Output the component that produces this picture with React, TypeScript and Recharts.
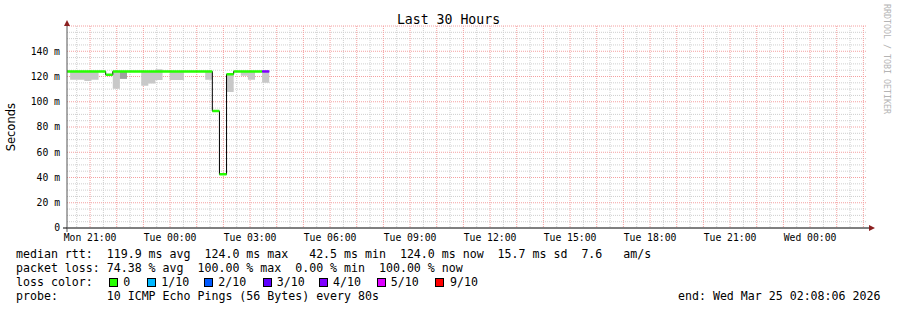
import React from 'react';
import { ComposedChart, Line, Area, XAxis, YAxis, CartesianGrid } from 'recharts';

// ---- data (minutes after graph start, Mon 20:08:06) ----
const binStartMin = [0, 7, 23, 39, 55, 71, 87, 103, 119, 135, 151, 167, 183, 199, 215, 231, 247, 263, 279, 295, 311, 327, 343, 359, 375, 391, 407, 423, 439];
const binEndMin = 455;
const medianMs = [124.0, 124.0, 124.0, 124.0, 124.0, 124.0, 121.3, 124.0, 124.0, 124.0, 124.0, 124.0, 124.0, 124.0, 124.0, 124.0, 124.0, 124.0, 124.0, 124.0, 124.0, 92.6, 42.5, 121.8, 124.0, 124.0, 124.0, 124.0, 124.0];
const lossBucket = [0, 0, 0, 0, 0, 0, 0, 0, 0, 0, 0, 0, 0, 0, 0, 0, 0, 0, 0, 0, 0, 0, 0, 0, 0, 0, 0, 0, 4];
const smokeLowMs = [null, 117.5, 117.5, 116.5, 117.5, null, null, 110.2, null, null, null, 112.6, 114.5, 117.3, null, 117.3, 117.3, null, null, null, 117.5, null, null, 107.8, null, 120.5, 117.5, null, 115.0];
const smokeHighMs = [null, 124.0, 124.0, 124.0, 124.0, null, null, 124.0, null, null, null, 124.0, 124.0, 125.8, null, 124.0, 124.0, null, null, null, 124.0, null, null, 121.8, null, 124.0, 124.0, null, 124.0];
const smokeDarkLowMs = [null, null, null, null, null, null, null, null, 118.1, null, null, null, null, null, null, null, null, null, null, null, null, null, null, null, null, null, null, null, null];
const smokeDarkHighMs = [null, null, null, null, null, null, null, null, 124.0, null, null, null, null, null, null, null, null, null, null, null, null, null, null, null, null, null, null, null, null];

const lossLabels = ['0', '1/10', '2/10', '3/10', '4/10', '5/10', '9/10'];
const lossColors = ['#26ff00', '#00b8ff', '#0059ff', '#5e00ff', '#7e00ff', '#dd00ff', '#ff0000'];

const xTickLabels = ['Mon 21:00', 'Tue 00:00', 'Tue 03:00', 'Tue 06:00', 'Tue 09:00', 'Tue 12:00', 'Tue 15:00', 'Tue 18:00', 'Tue 21:00', 'Wed 00:00'];
const firstTickMin = 51.9; // Mon 21:00
const yTicks = [0, 20, 40, 60, 80, 100, 120, 140];

const statLines = [
  'median rtt:  119.9 ms avg  124.0 ms max   42.5 ms min  124.0 ms now  15.7 ms sd  7.6   am/s',
  'packet loss: 74.38 % avg  100.00 % max  0.00 % min  100.00 % now',
];
const probeLine = 'probe:       10 ICMP Echo Pings (56 Bytes) every 80s';
const endLine = 'end: Wed Mar 25 02:08:06 2026';
const titleText = 'Last 30 Hours';
const yLabel = 'Seconds';
const watermark = 'RRDTOOL / TOBI OETIKER';

// ---- derived tables ----
const xTicks = xTickLabels.map((_, i) => firstTickMin + 180 * i);
const majorX = Array.from({ length: 30 }, (_, i) => firstTickMin + 60 * i);
const minorX = Array.from({ length: 30 }, (_, i) => firstTickMin - 30 + 60 * i);
const majorY = [20, 40, 60, 80, 100, 120, 140, 160];
const minorY = Array.from({ length: 32 }, (_, i) => 5 * (i + 1)).filter((v) => v % 20 !== 0);

const rows: any[] = [];
binStartMin.forEach((s, i) => {
  const e = i + 1 < binStartMin.length ? binStartMin[i + 1] : binEndMin;
  const m = medianMs[i];
  const smoke = smokeLowMs[i] == null ? null : [smokeLowMs[i], smokeHighMs[i]];
  const dark = smokeDarkLowMs[i] == null ? null : [smokeDarkLowMs[i], smokeDarkHighMs[i]];
  const base: any = { med: m, smoke, dark };
  const brk: any = { med: m, smoke: null, dark: null };
  lossColors.forEach((_, k) => {
    base['loss' + k] = lossBucket[i] === k ? m : null;
    brk['loss' + k] = null;
  });
  rows.push({ t: s, ...base }, { t: e, ...base }, { t: e, ...brk });
});

const mono = '"DejaVu Sans Mono", monospace';
const legendLeft = 16;
const boxX = [108.7, 146.7, 204, 262.7, 319.3, 377.3, 435.3];
const labX = [123.3, 161.3, 218.3, 276.7, 333, 390.7, 450];

export default function App() {
  const tickStyle = { fontFamily: mono, fontSize: 9.75, fill: '#000' };
  const lineText: React.CSSProperties = {
    position: 'absolute',
    whiteSpace: 'pre',
    fontFamily: mono,
    fontSize: 11.6,
    lineHeight: '14px',
    color: '#000',
  };
  return (
    <div style={{ position: 'absolute', left: 0, top: 0, width: 897, height: 310, background: '#fff', overflow: 'hidden' }}>
      <ComposedChart width={897} height={310} data={rows} margin={{ top: 26, right: 30, bottom: 52, left: 0 }}>
        <CartesianGrid horizontalValues={minorY} verticalValues={minorX} stroke="#cfcfcf" strokeDasharray="1 1" />
        <CartesianGrid horizontalValues={majorY} verticalValues={majorX} stroke="#f4a0a0" strokeDasharray="1 1" />
        <XAxis
          dataKey="t"
          type="number"
          domain={[0, 1800]}
          ticks={xTicks}
          tickFormatter={(v: number) => xTickLabels[xTicks.findIndex((x) => Math.abs(x - v) < 0.01)] ?? ''}
          tick={tickStyle}
          tickLine={false}
          tickSize={4}
          tickMargin={2}
          axisLine={{ stroke: '#000' }}
          height={30}
          allowDataOverflow
          interval={0}
        />
        <YAxis
          type="number"
          domain={[0, 160]}
          ticks={yTicks}
          tickFormatter={(v: number) => (v === 0 ? '0' : `${v} m`)}
          tick={tickStyle}
          tickLine={false}
          tickSize={5}
          tickMargin={2}
          axisLine={{ stroke: '#555' }}
          width={67}
          allowDataOverflow
          interval={0}
        />
        <Area dataKey="smoke" type="linear" stroke="none" fill="#c8c8c8" fillOpacity={1} isAnimationActive={false} connectNulls={false} dot={false} activeDot={false} />
        <Area dataKey="dark" type="linear" stroke="none" fill="#a0a0a0" fillOpacity={1} isAnimationActive={false} connectNulls={false} dot={false} activeDot={false} />
        <Line dataKey="med" type="linear" stroke="#000" strokeWidth={1} dot={false} activeDot={false} isAnimationActive={false} />
        {lossColors.map((c, k) => (
          <Line key={k} dataKey={'loss' + k} type="linear" stroke={c} strokeWidth={2.5} dot={false} activeDot={false} isAnimationActive={false} connectNulls={false} />
        ))}
      </ComposedChart>

      <svg width={897} height={310} style={{ position: 'absolute', left: 0, top: 0, pointerEvents: 'none' }}>
        <line x1={67} y1={228} x2={67} y2={232} stroke="#555" />
        <line x1={63} y1={228} x2={67} y2={228} stroke="#000" />
        <line x1={867} y1={228} x2={870} y2={228} stroke="#000" />
        <polygon points="64,26 70,26 67,20" fill="#8b1f1f" />
        <polygon points="869,225 869,231 875,228" fill="#8b1f1f" />
      </svg>

      <div style={{ position: 'absolute', left: 0, top: 12.4, width: 897, textAlign: 'center', fontFamily: mono, fontSize: 13.2, lineHeight: '16px', color: '#000', whiteSpace: 'pre' }}>
        {titleText}
      </div>

      <div style={{ position: 'absolute', left: 4, top: 103, writingMode: 'vertical-rl', transform: 'rotate(180deg)', fontFamily: '"DejaVu Sans", sans-serif', fontSize: 11.5, lineHeight: '14px', color: '#000' }}>
        {yLabel}
      </div>

      <div style={{ position: 'absolute', left: 882, top: 4, writingMode: 'vertical-rl', fontFamily: mono, fontSize: 8.3, lineHeight: '10px', color: '#b4b4b4', whiteSpace: 'pre' }}>
        {watermark}
      </div>

      <div style={{ ...lineText, left: legendLeft, top: 246.5 }}>{statLines[0]}</div>
      <div style={{ ...lineText, left: legendLeft, top: 260.5 }}>{statLines[1]}</div>
      <div style={{ ...lineText, left: legendLeft, top: 274.5 }}>{'loss color:'}</div>
      {lossLabels.map((l, k) => (
        <React.Fragment key={l}>
          <div style={{ position: 'absolute', left: boxX[k], top: 278, width: 7, height: 7, background: lossColors[k], border: '1px solid #000' }} />
          <div style={{ ...lineText, left: labX[k], top: 274.5 }}>{l}</div>
        </React.Fragment>
      ))}
      <div style={{ ...lineText, left: legendLeft, top: 288.5 }}>{probeLine}</div>
      <div style={{ ...lineText, left: 678, top: 288.5 }}>{endLine}</div>
    </div>
  );
}
